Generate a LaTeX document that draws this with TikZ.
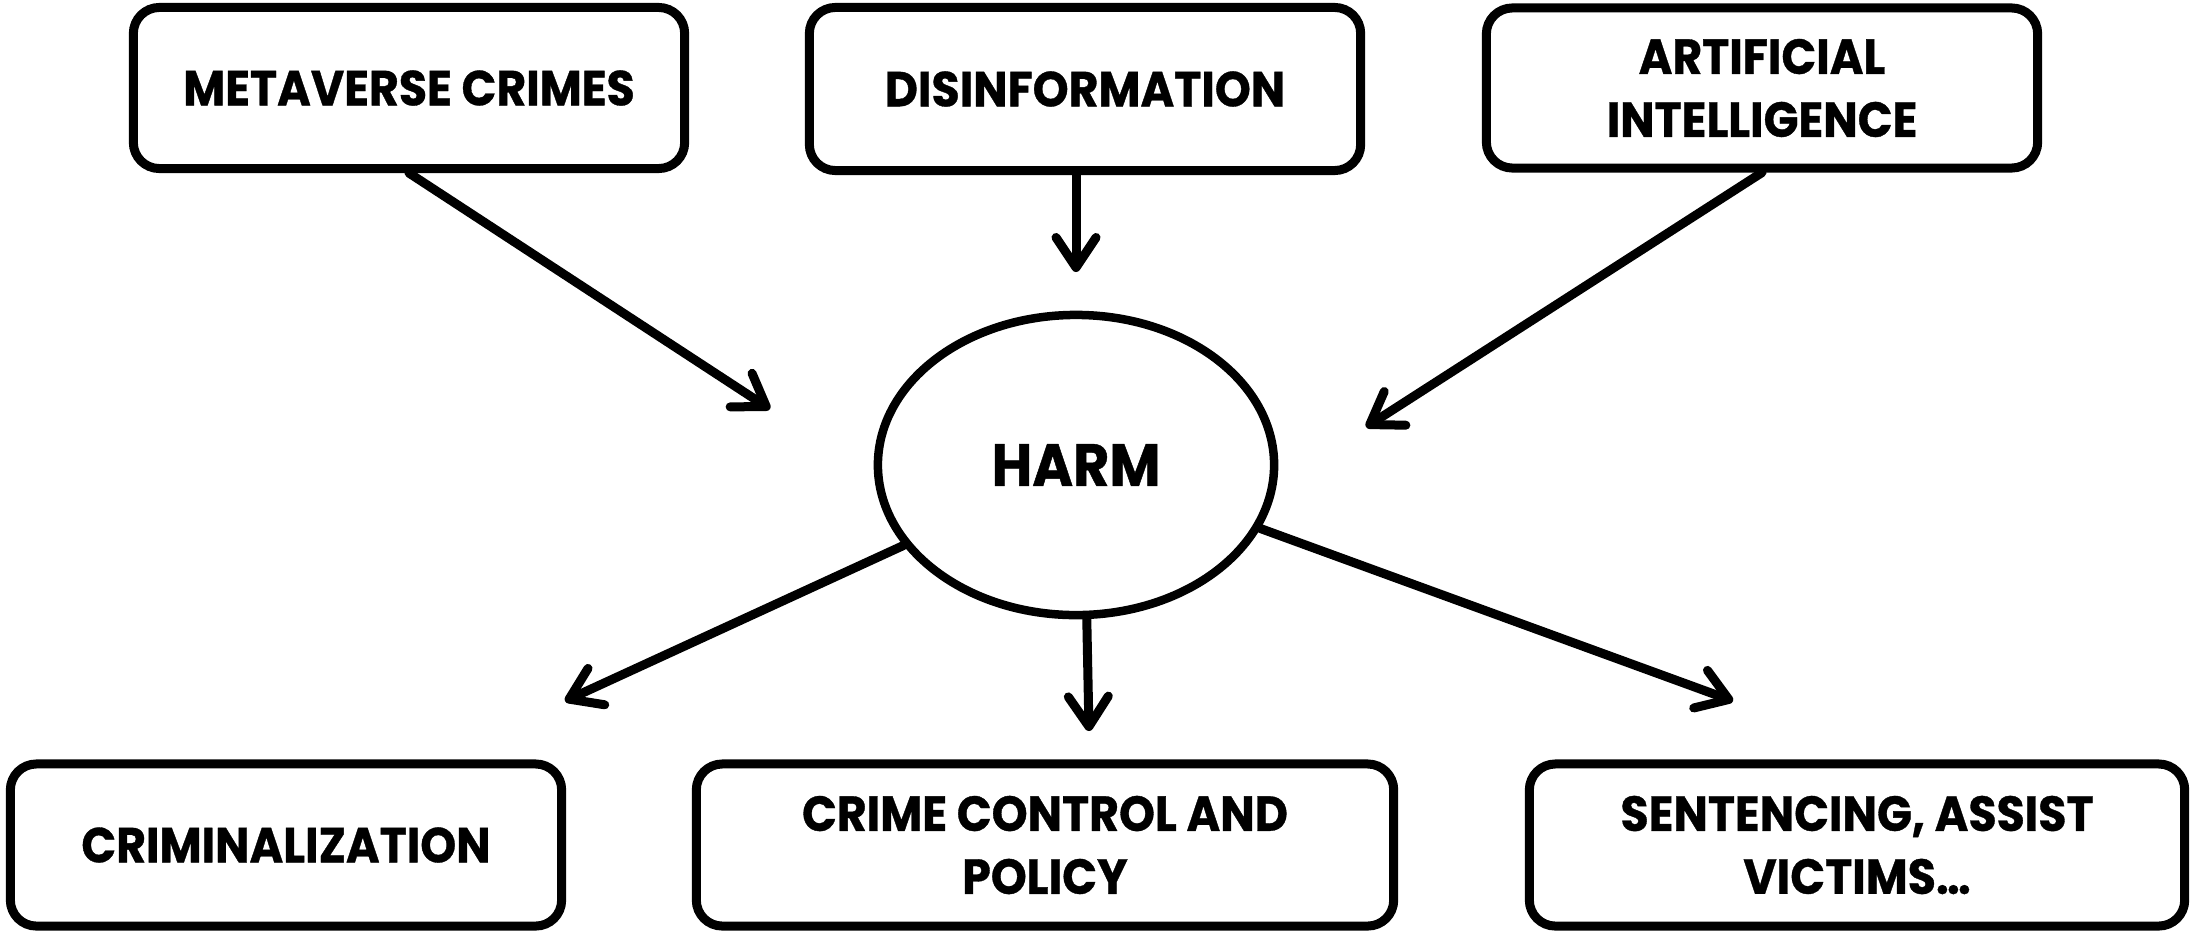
\documentclass[tikz,border=0pt]{standalone}
\usepackage{fontspec}
\usetikzlibrary{arrows.meta,shapes.geometric}
\newfontfamily\geofont[FakeStretch=0.93, BoldFeatures={FakeBold=0.7}]{Poppins}

\tikzset{
  box/.style={draw=black, line width=0.09cm, rounded corners=0.26cm,
    fill=white, align=center, inner sep=0pt,
    minimum width=5.51cm, minimum height=1.61cm,
    font=\geofont\bfseries\fontsize{14}{17.9}\selectfont},
  hub/.style={draw=black, line width=0.085cm, ellipse, inner sep=0pt,
    minimum width=3.96cm, minimum height=3.0cm,
    font=\geofont\bfseries\fontsize{17}{20}\selectfont},
  link/.style={line width=0.09cm, line cap=round, line join=round,
    -{Straight Barb[length=0.3cm, width=0.4cm, line cap=round, line join=round]}}
}

\begin{document}
\begin{tikzpicture}[x=0.01cm, y=-0.01cm]
  \useasboundingbox (0,0) rectangle (2192,930);

  % sources of harm
  \node[box] (meta) at (409,88) {METAVERSE CRIMES};
  \node[box, minimum height=1.63cm] (dis) at (1085,89) {DISINFORMATION};
  \node[box, minimum height=1.60cm] (ai) at (1762,88) {ARTIFICIAL\\INTELLIGENCE};

  % central concept
  \node[hub] (harm) at (1076,465) {HARM\hspace{0.5cm}};

  % responses
  \node[box, minimum height=1.62cm] (crim) at (286,845) {CRIMINALIZATION};
  \node[box, minimum width=6.97cm, minimum height=1.62cm] (ccp) at (1045,845) {CRIME CONTROL AND\\POLICY};
  \node[box, minimum width=6.55cm, minimum height=1.62cm] (sent) at (1857,845) {SENTENCING, ASSIST\\VICTIMS\dots};

  % arrow tips stop short of their targets
  \coordinate (t1) at (770,409);
  \coordinate (t2) at (1076,272);
  \coordinate (t3) at (1366,427);
  \coordinate (t4) at (565,701);
  \coordinate (t5) at (1089,731);
  \coordinate (t6) at (1733,701);

  \draw[link] (meta.south) -- (t1);
  \draw[link] (dis.south -| harm.center) -- (t2);
  \draw[link] (ai.south) -- (t3);
  \draw[link] (harm.205) -- (t4);
  \draw[link] (harm.274) -- (t5);
  \draw[link] (harm.341) -- (t6);
\end{tikzpicture}
\end{document}
